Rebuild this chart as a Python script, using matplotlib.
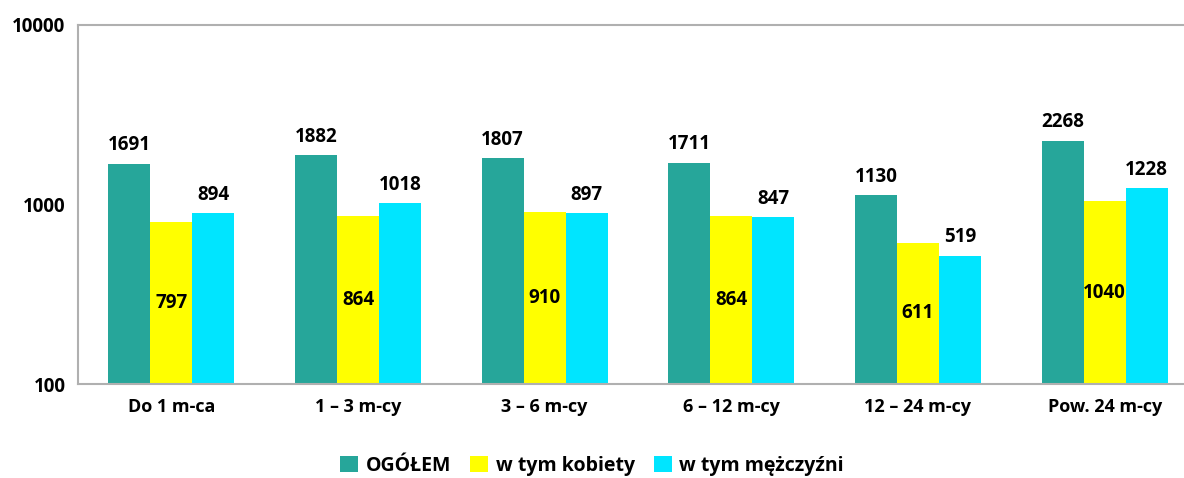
import matplotlib
matplotlib.use("Agg")
import matplotlib.pyplot as plt
import numpy as np

categories = ["Do 1 m-ca", "1 – 3 m-cy", "3 – 6 m-cy", "6 – 12 m-cy", "12 – 24 m-cy", "Pow. 24 m-cy"]
ogolem = [1691, 1882, 1807, 1711, 1130, 2268]
kobiety = [797, 864, 910, 864, 611, 1040]
mezczyzni = [894, 1018, 897, 847, 519, 1228]
series_names = ["OGÓŁEM", "w tym kobiety", "w tym mężczyźni"]
colors = ["#26A69A", "#FFFF00", "#00E5FF"]

plt.rcParams['font.family'] = ['Open Sans', 'DejaVu Sans']
plt.rcParams['font.weight'] = 'bold'

fig = plt.figure(figsize=(11.84, 4.78), dpi=100)
ax = fig.add_axes([78/1184, 1-384/478, 1120/1184, (384-25)/478])

x = np.arange(len(categories))
w = 0.225
bars = []
for i, (vals, name, c) in enumerate(zip([ogolem, kobiety, mezczyzni], series_names, colors)):
    b = ax.bar(x + (i-1)*w, vals, w, bottom=0, color=c, label=name, zorder=2)
    bars.append(b)

ax.set_yscale('log')
ax.set_ylim(100, 10000)
ax.set_xlim(-0.5, len(categories)-0.5)
ax.set_yticks([100, 1000, 10000])
ax.set_yticklabels(["100", "1000", "10000"])
ax.minorticks_off()
ax.tick_params(axis='y', length=0, labelsize=13.5, pad=9)
ax.tick_params(axis='x', length=0, labelsize=13, pad=10)
ax.set_xticks(x)
ax.set_xticklabels(categories)
for lab in ax.get_xticklabels() + ax.get_yticklabels():
    lab.set_fontweight('bold')

for s in ['left', 'top', 'bottom']:
    ax.spines[s].set_color('#B0B0B0')
    ax.spines[s].set_linewidth(1.5)
ax.spines['right'].set_visible(False)

fs = 13.5
for xi, v in zip(x, ogolem):
    ax.annotate(str(v), (xi - w, v), xytext=(0, 6), textcoords='offset points',
                ha='center', va='bottom', fontsize=fs, fontweight='bold')
for xi, v in zip(x, mezczyzni):
    ax.annotate(str(v), (xi + w, v), xytext=(0, 6), textcoords='offset points',
                ha='center', va='bottom', fontsize=fs, fontweight='bold')
for xi, v in zip(x, kobiety):
    ax.text(xi, np.sqrt(100*v), str(v), ha='center', va='center', fontsize=fs, fontweight='bold')

leg = fig.legend(handles=bars, labels=series_names, loc='center', bbox_to_anchor=(0.5, 1-466/478),
                 ncol=3, frameon=False, handlelength=0.9, handleheight=0.9,
                 handletextpad=0.4, columnspacing=1.0, prop={'weight': 'bold', 'size': 14})

fig.savefig("out.png", dpi=100)
